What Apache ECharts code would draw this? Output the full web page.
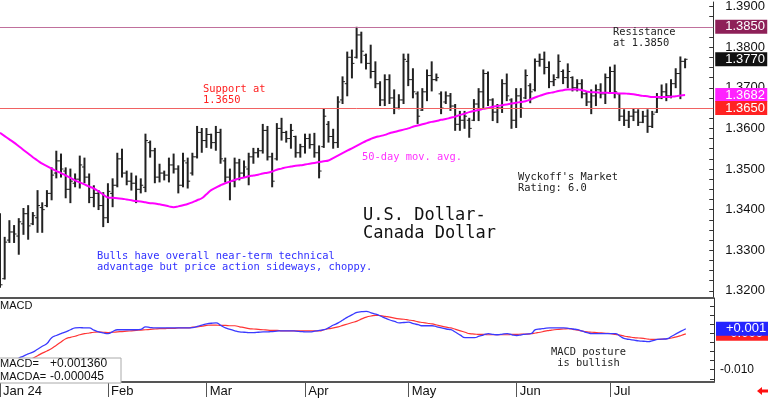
<!DOCTYPE html>
<html>
<head>
<meta charset="utf-8">
<script src="https://cdn.jsdelivr.net/npm/echarts@6/dist/echarts.min.js"></script>
<style>
  html, body { margin: 0; padding: 0; background: #fff; }
  #chart { width: 768px; height: 398px; }
</style>
</head>
<body>
<div id="chart"></div>
<script>
// month labels under the MACD panel
const monthLabels = ['Jan 24', 'Feb', 'Mar', 'Apr', 'May', 'Jun', 'Jul'];

// daily OHLC, Jan 1 .. Jul 23 2024 (weekdays)
const opens = [
  1.3385,1.3230,1.3325,1.3345,1.3335,1.3365,1.3390,1.3365,1.3380,1.3405,
  1.3410,1.3440,1.3490,1.3520,1.3495,1.3450,1.3465,1.3475,1.3505,1.3480,
  1.3430,1.3440,1.3410,1.3380,1.3440,1.3460,1.3525,1.3490,1.3470,1.3465,
  1.3450,1.3455,1.3565,1.3545,1.3480,1.3490,1.3485,1.3510,1.3500,1.3460,
  1.3515,1.3490,1.3530,1.3590,1.3570,1.3585,1.3565,1.3590,1.3520,1.3480,
  1.3470,1.3515,1.3490,1.3500,1.3530,1.3540,1.3545,1.3595,1.3530,1.3525,
  1.3600,1.3590,1.3575,1.3580,1.3540,1.3555,1.3575,1.3560,1.3540,1.3555,
  1.3610,1.3580,1.3565,1.3670,1.3710,1.3775,1.3775,1.3830,1.3780,1.3760,
  1.3740,1.3710,1.3670,1.3720,1.3675,1.3650,1.3670,1.3765,1.3720,1.3685,
  1.3645,1.3690,1.3730,1.3720,1.3685,1.3665,1.3680,1.3655,1.3610,1.3620,
  1.3620,1.3620,1.3660,1.3690,1.3735,1.3670,1.3640,1.3650,1.3710,1.3670,
  1.3620,1.3680,1.3675,1.3705,1.3695,1.3765,1.3770,1.3750,1.3715,1.3725,
  1.3740,1.3725,1.3725,1.3700,1.3710,1.3685,1.3665,1.3680,1.3695,1.3685,
  1.3725,1.3740,1.3685,1.3630,1.3620,1.3630,1.3640,1.3615,1.3630,1.3605,
  1.3640,1.3675,1.3690,1.3680,1.3710,1.3735,1.3765
];
const highs = [
  1.3391,1.3333,1.3374,1.3362,1.3379,1.3404,1.3411,1.3394,1.3448,1.3418,
  1.3448,1.3504,1.3545,1.3538,1.3504,1.3501,1.3489,1.3533,1.3528,1.3489,
  1.3460,1.3448,1.3443,1.3465,1.3477,1.3540,1.3550,1.3496,1.3491,1.3484,
  1.3477,1.3587,1.3570,1.3552,1.3513,1.3496,1.3528,1.3538,1.3509,1.3540,
  1.3528,1.3540,1.3606,1.3601,1.3601,1.3587,1.3606,1.3599,1.3528,1.3501,
  1.3528,1.3525,1.3521,1.3540,1.3552,1.3552,1.3611,1.3606,1.3540,1.3613,
  1.3626,1.3594,1.3611,1.3582,1.3562,1.3587,1.3587,1.3589,1.3558,1.3649,
  1.3618,1.3599,1.3679,1.3728,1.3789,1.3794,1.3850,1.3838,1.3784,1.3806,
  1.3765,1.3716,1.3733,1.3733,1.3696,1.3684,1.3784,1.3784,1.3748,1.3691,
  1.3699,1.3745,1.3765,1.3735,1.3691,1.3691,1.3687,1.3660,1.3643,1.3643,
  1.3626,1.3672,1.3699,1.3745,1.3740,1.3674,1.3660,1.3721,1.3735,1.3674,
  1.3699,1.3699,1.3745,1.3711,1.3772,1.3784,1.3789,1.3765,1.3733,1.3782,
  1.3745,1.3760,1.3728,1.3721,1.3721,1.3691,1.3696,1.3708,1.3711,1.3735,
  1.3752,1.3757,1.3687,1.3647,1.3643,1.3650,1.3647,1.3643,1.3647,1.3643,
  1.3687,1.3708,1.3711,1.3721,1.3748,1.3777,1.3772
];
const lows = [
  1.3208,1.3228,1.3318,1.3318,1.3289,1.3338,1.3326,1.3362,1.3343,1.3343,
  1.3406,1.3423,1.3477,1.3479,1.3428,1.3416,1.3455,1.3452,1.3465,1.3416,
  1.3406,1.3399,1.3357,1.3367,1.3406,1.3455,1.3479,1.3460,1.3447,1.3416,
  1.3440,1.3443,1.3528,1.3465,1.3467,1.3472,1.3467,1.3489,1.3440,1.3455,
  1.3452,1.3484,1.3526,1.3540,1.3552,1.3550,1.3545,1.3513,1.3467,1.3423,
  1.3455,1.3472,1.3479,1.3460,1.3513,1.3528,1.3538,1.3521,1.3455,1.3521,
  1.3570,1.3565,1.3550,1.3528,1.3528,1.3538,1.3550,1.3528,1.3477,1.3552,
  1.3565,1.3550,1.3552,1.3660,1.3679,1.3723,1.3772,1.3760,1.3745,1.3723,
  1.3699,1.3655,1.3655,1.3660,1.3635,1.3647,1.3660,1.3704,1.3674,1.3611,
  1.3643,1.3667,1.3691,1.3716,1.3635,1.3660,1.3643,1.3594,1.3594,1.3599,
  1.3577,1.3618,1.3618,1.3650,1.3655,1.3618,1.3613,1.3638,1.3667,1.3599,
  1.3601,1.3626,1.3672,1.3662,1.3691,1.3752,1.3733,1.3699,1.3704,1.3723,
  1.3709,1.3699,1.3691,1.3691,1.3674,1.3655,1.3635,1.3655,1.3674,1.3660,
  1.3687,1.3674,1.3618,1.3606,1.3601,1.3618,1.3606,1.3613,1.3589,1.3601,
  1.3638,1.3672,1.3667,1.3674,1.3699,1.3672,1.3748
];
const closes = [
  1.3215,1.3320,1.3345,1.3340,1.3370,1.3390,1.3360,1.3385,1.3410,1.3400,
  1.3440,1.3485,1.3520,1.3500,1.3450,1.3470,1.3475,1.3510,1.3480,1.3430,
  1.3440,1.3410,1.3380,1.3445,1.3460,1.3525,1.3490,1.3470,1.3465,1.3450,
  1.3460,1.3570,1.3545,1.3480,1.3490,1.3485,1.3510,1.3500,1.3460,1.3520,
  1.3470,1.3530,1.3590,1.3570,1.3585,1.3565,1.3590,1.3525,1.3480,1.3470,
  1.3515,1.3490,1.3505,1.3530,1.3540,1.3545,1.3595,1.3530,1.3470,1.3600,
  1.3590,1.3575,1.3595,1.3540,1.3555,1.3575,1.3560,1.3540,1.3495,1.3630,
  1.3580,1.3565,1.3665,1.3715,1.3775,1.3760,1.3830,1.3790,1.3760,1.3740,
  1.3710,1.3670,1.3720,1.3675,1.3650,1.3670,1.3770,1.3720,1.3690,1.3630,
  1.3690,1.3730,1.3720,1.3725,1.3650,1.3680,1.3655,1.3610,1.3620,1.3630,
  1.3600,1.3660,1.3690,1.3735,1.3670,1.3640,1.3650,1.3710,1.3680,1.3620,
  1.3680,1.3650,1.3730,1.3690,1.3765,1.3770,1.3750,1.3715,1.3720,1.3765,
  1.3725,1.3740,1.3700,1.3710,1.3685,1.3665,1.3680,1.3695,1.3685,1.3725,
  1.3740,1.3690,1.3630,1.3620,1.3630,1.3640,1.3615,1.3630,1.3605,1.3635,
  1.3675,1.3690,1.3680,1.3710,1.3735,1.3765,1.3770
];

// 50-day moving average as drawn
const ma50 = [
  1.3589,1.3581,1.3573,1.3565,1.3556,1.3547,1.3538,1.3529,1.3521,1.3513,
  1.3507,1.3501,1.3495,1.3490,1.3484,1.3478,1.3472,1.3467,1.3462,1.3457,
  1.3452,1.3445,1.3437,1.3430,1.3429,1.3428,1.3427,1.3425,1.3423,1.3421,
  1.3420,1.3418,1.3416,1.3415,1.3413,1.3411,1.3408,1.3406,1.3408,1.3411,
  1.3414,1.3418,1.3423,1.3428,1.3438,1.3448,1.3454,1.3460,1.3465,1.3469,
  1.3473,1.3477,1.3479,1.3482,1.3484,1.3486,1.3489,1.3491,1.3494,1.3498,
  1.3501,1.3504,1.3506,1.3508,1.3509,1.3511,1.3513,1.3515,1.3517,1.3519,
  1.3521,1.3527,1.3533,1.3539,1.3545,1.3551,1.3557,1.3563,1.3569,1.3574,
  1.3578,1.3581,1.3584,1.3588,1.3591,1.3594,1.3597,1.3600,1.3604,1.3607,
  1.3610,1.3613,1.3616,1.3618,1.3621,1.3623,1.3626,1.3629,1.3633,1.3636,
  1.3640,1.3643,1.3645,1.3648,1.3650,1.3653,1.3655,1.3657,1.3659,1.3661,
  1.3663,1.3665,1.3667,1.3671,1.3676,1.3680,1.3684,1.3687,1.3689,1.3692,
  1.3694,1.3696,1.3696,1.3696,1.3694,1.3691,1.3689,1.3689,1.3688,1.3688,
  1.3687,1.3687,1.3686,1.3686,1.3685,1.3684,1.3682,1.3680,1.3679,1.3677,
  1.3677,1.3677,1.3677,1.3678,1.3679,1.3681,1.3682
];

// MACD (blue) and its signal line (red)
const macd = [
  -0.0105,-0.0096,-0.0087,-0.0078,-0.0068,-0.0062,-0.0056,-0.0051,-0.0043,-0.0035,
  -0.0027,-0.0011,-0.0005,0.0000,0.0005,0.0011,0.0016,0.0017,0.0016,0.0016,
  0.0010,0.0005,0.0002,0.0000,0.0006,0.0011,0.0011,0.0011,0.0011,0.0011,
  0.0012,0.0019,0.0017,0.0016,0.0016,0.0016,0.0016,0.0016,0.0016,0.0016,
  0.0016,0.0017,0.0020,0.0024,0.0027,0.0029,0.0030,0.0023,0.0016,0.0012,
  0.0008,0.0005,0.0004,0.0003,0.0003,0.0004,0.0005,0.0005,0.0006,0.0007,
  0.0008,0.0008,0.0008,0.0007,0.0006,0.0005,0.0005,0.0007,0.0009,0.0011,
  0.0017,0.0024,0.0030,0.0038,0.0046,0.0053,0.0059,0.0061,0.0062,0.0058,
  0.0054,0.0049,0.0043,0.0038,0.0034,0.0030,0.0031,0.0032,0.0028,0.0025,
  0.0022,0.0022,0.0022,0.0019,0.0016,0.0013,0.0011,0.0004,-0.0004,-0.0011,
  -0.0011,-0.0011,-0.0007,-0.0003,0.0000,-0.0002,-0.0003,-0.0001,0.0000,-0.0003,
  -0.0005,-0.0003,-0.0001,0.0000,0.0011,0.0013,0.0015,0.0016,0.0016,0.0016,
  0.0016,0.0015,0.0013,0.0011,0.0007,0.0003,0.0000,0.0000,0.0000,0.0000,
  0.0000,0.0000,-0.0007,-0.0014,-0.0016,-0.0018,-0.0020,-0.0021,-0.0022,-0.0019,
  -0.0016,-0.0015,-0.0014,-0.0007,0.0000,0.0007,0.00136
];
const macdSignal = [
  -0.0127,-0.0118,-0.0110,-0.0101,-0.0092,-0.0083,-0.0075,-0.0068,-0.0061,-0.0054,
  -0.0048,-0.0041,-0.0032,-0.0023,-0.0014,-0.0010,-0.0007,-0.0003,0.0000,0.0002,
  0.0004,0.0005,0.0004,0.0003,0.0004,0.0005,0.0006,0.0007,0.0008,0.0009,
  0.0010,0.0011,0.0012,0.0013,0.0014,0.0014,0.0015,0.0015,0.0016,0.0016,
  0.0016,0.0018,0.0019,0.0021,0.0023,0.0024,0.0024,0.0023,0.0023,0.0022,
  0.0022,0.0019,0.0017,0.0014,0.0013,0.0012,0.0011,0.0010,0.0009,0.0009,
  0.0008,0.0008,0.0008,0.0008,0.0008,0.0008,0.0008,0.0008,0.0008,0.0011,
  0.0014,0.0016,0.0019,0.0023,0.0027,0.0031,0.0035,0.0041,0.0046,0.0049,
  0.0051,0.0050,0.0048,0.0046,0.0043,0.0041,0.0040,0.0038,0.0036,0.0033,
  0.0031,0.0029,0.0027,0.0024,0.0021,0.0018,0.0016,0.0012,0.0008,0.0004,
  0.0000,-0.0001,-0.0002,-0.0002,-0.0003,-0.0003,-0.0003,-0.0003,-0.0003,-0.0002,
  -0.0002,-0.0001,-0.0001,0.0000,0.0002,0.0004,0.0007,0.0009,0.0011,0.0012,
  0.0013,0.0014,0.0012,0.0010,0.0007,0.0005,0.0004,0.0003,0.0002,0.0001,
  0.0000,-0.0002,-0.0004,-0.0007,-0.0009,-0.0011,-0.0012,-0.0013,-0.0015,-0.0016,
  -0.0016,-0.0015,-0.0014,-0.0012,-0.0009,-0.0005,-0.000045
];

const priceLabels = [1.32, 1.33, 1.34, 1.35, 1.36, 1.37, 1.38, 1.39];
const macdLabels = [-0.01];
const resistance = 1.3850;
const support = 1.3650;

// weekday categories Jan 1 .. Jul 31 2024
const days = [];
for (let d = new Date(Date.UTC(2024, 0, 1)); d <= new Date(Date.UTC(2024, 6, 31)); d.setUTCDate(d.getUTCDate() + 1)) {
  const wd = d.getUTCDay();
  if (wd !== 0 && wd !== 6) days.push(d.toISOString().slice(0, 10));
}
const monthStart = {};
days.forEach((s, i) => {
  if (i === 0 || s.slice(5, 7) !== days[i - 1].slice(5, 7)) monthStart[i] = +s.slice(5, 7) - 1;
});

const ohlc = opens.map((o, i) => [i, o, highs[i], lows[i], closes[i]]);
const last = closes.length - 1;

const priceTicks = [];
for (let v = 1.3200; v <= 1.3901; v += 0.0025) priceTicks.push(+v.toFixed(4));
const macdTicks = [];
for (let v = -0.0125; v <= 0.0091; v += 0.0025) macdTicks.push(+v.toFixed(4));

const clear = 'rgba(0,0,0,0)';
const tagLabel = (bg, text) => ({
  show: true, position: 'end', distance: 2,
  formatter: text, color: '#fff', backgroundColor: bg,
  fontFamily: 'Liberation Sans', fontSize: 13, lineHeight: 14,
  width: 40, padding: [0, 2, 0, 10], align: 'left'
});
const tag = (value, bg, text, lineColor) => ({
  yAxis: value,
  lineStyle: { color: lineColor || clear, width: 1, type: 'solid' },
  label: tagLabel(bg, text)
});
const sgn = (v, d) => (v >= 0 ? '+' : '-') + Math.abs(v).toFixed(d);

const mono = '10.4px "DejaVu Sans Mono"';
const texts = [];
function txt(x, y, s, color, font) {
  texts.push({ type: 'text', x: x, y: y, z: 50,
    style: { text: s, fill: color, font: font || mono, textAlign: 'left', textVerticalAlign: 'middle' } });
}
txt(203, 89, 'Support at', '#ff2020');
txt(203, 100, '1.3650', '#ff2020');
txt(613, 32, 'Resistance', '#222');
txt(613, 43, 'at 1.3850', '#222');
txt(362, 157, '50-day mov. avg.', '#ff30ff');
txt(518, 177, "Wyckoff's Market", '#222');
txt(518, 188, 'Rating: 6.0', '#222');
txt(363, 216, 'U.S. Dollar-', '#111', '17px "DejaVu Sans Mono"');
txt(363, 234, 'Canada Dollar', '#111', '17px "DejaVu Sans Mono"');
txt(97, 256, 'Bulls have overall near-term technical', '#3030ff');
txt(97, 267, 'advantage but price action sideways, choppy.', '#3030ff');
txt(551, 352, 'MACD posture', '#222');
txt(551, 363, ' is bullish', '#222');
txt(0, 306, 'MACD', '#111', '11px "Liberation Sans"');

const boxFont = '11px "Liberation Sans"';
const boxValFont = '12px "Liberation Sans"';

const myChart = echarts.init(document.getElementById('chart'));

const option = {
  animation: false,
  backgroundColor: '#fff',
  grid: [
    { left: 0, right: 54, top: 0, height: 298 },
    { left: 0, right: 54, top: 298, height: 85 }
  ],
  xAxis: [
    {
      type: 'category', gridIndex: 0, data: days, boundaryGap: false,
      axisLine: { show: true, onZero: false, lineStyle: { color: '#555', width: 2 } },
      axisTick: { show: false }, axisLabel: { show: false }
    },
    {
      type: 'category', gridIndex: 1, data: days, boundaryGap: false,
      axisLine: { show: true, onZero: false, lineStyle: { color: '#555', width: 2 } },
      axisTick: { show: true, length: 15, interval: (i) => i in monthStart, lineStyle: { color: '#555' } },
      axisLabel: {
        interval: (i) => i in monthStart,
        formatter: (v, i) => monthLabels[monthStart[i]],
        align: 'left', padding: [0, 0, 0, 3], margin: 3,
        color: '#111', fontFamily: 'Liberation Sans', fontSize: 13
      }
    }
  ],
  yAxis: [
    {
      type: 'value', gridIndex: 0, position: 'right', min: 1.31825, max: 1.39111,
      axisLine: { show: true, lineStyle: { color: '#333' } },
      axisTick: { show: true, inside: true, length: 4, customValues: priceTicks, lineStyle: { color: '#333' } },
      axisLabel: { customValues: priceLabels, formatter: (v) => v.toFixed(4), margin: 12,
        color: '#111', fontFamily: 'Liberation Sans', fontSize: 13 },
      splitLine: { show: false }
    },
    {
      type: 'value', gridIndex: 1, position: 'right', min: -0.0134, max: 0.0099,
      axisLine: { show: true, lineStyle: { color: '#333' } },
      axisTick: { show: true, inside: true, length: 4, customValues: macdTicks, lineStyle: { color: '#333' } },
      axisLabel: { customValues: macdLabels, formatter: (v) => v.toFixed(3), margin: 6,
        color: '#111', fontFamily: 'Liberation Sans', fontSize: 12 },
      splitLine: { show: false }
    }
  ],
  series: [
    {
      type: 'custom', name: 'USD/CAD', xAxisIndex: 0, yAxisIndex: 0,
      data: ohlc, encode: { x: 0, y: [1, 2, 3, 4] },
      renderItem: function (params, api) {
        const i = api.value(0);
        const pO = api.coord([i, api.value(1)]);
        const pH = api.coord([i, api.value(2)]);
        const pL = api.coord([i, api.value(3)]);
        const pC = api.coord([i, api.value(4)]);
        const st = { stroke: '#222', lineWidth: 1 };
        return {
          type: 'group',
          children: [
            { type: 'line', shape: { x1: pH[0], y1: pH[1], x2: pL[0], y2: pL[1] }, style: { stroke: '#222', lineWidth: 2 } },
            { type: 'line', shape: { x1: pO[0] - 2.5, y1: pO[1], x2: pO[0], y2: pO[1] }, style: st },
            { type: 'line', shape: { x1: pC[0], y1: pC[1], x2: pC[0] + 2.5, y2: pC[1] }, style: st }
          ]
        };
      }
    },
    {
      type: 'line', name: '50-day', xAxisIndex: 0, yAxisIndex: 0, data: ma50,
      showSymbol: false, smooth: true, z: 3,
      lineStyle: { color: '#ff00ff', width: 2 },
      markLine: {
        silent: true, symbol: ['none', 'none'], animation: false, precision: 6,
        data: [
          tag(ma50[last], '#ff22ff', ma50[last].toFixed(4)),
          tag(support, '#ff2222', support.toFixed(4), '#f06262'),
          tag(resistance, '#8e2058', resistance.toFixed(4), '#c0709c'),
          tag(closes[last], '#111', closes[last].toFixed(4))
        ]
      }
    },
    {
      type: 'line', name: 'MACDA', xAxisIndex: 1, yAxisIndex: 1, data: macdSignal,
      showSymbol: false, smooth: true, lineStyle: { color: '#ff3434', width: 1.2 },
      markLine: {
        silent: true, symbol: ['none', 'none'], animation: false, precision: 8,
        data: [tag(macdSignal[last], '#ff2222', sgn(macdSignal[last], 3))]
      }
    },
    {
      type: 'line', name: 'MACD', xAxisIndex: 1, yAxisIndex: 1, data: macd,
      showSymbol: false, smooth: true, lineStyle: { color: '#3a3aff', width: 1.3 },
      markLine: {
        silent: true, symbol: ['none', 'none'], animation: false, precision: 8,
        data: [tag(macd[last], '#2424ff', sgn(macd[last], 3))]
      }
    }
  ],
  graphic: texts.concat([
    { type: 'rect', z: 60, shape: { x: -1, y: 358, width: 122, height: 25 },
      style: { fill: '#fff', stroke: '#aaa', lineWidth: 1 } },
    { type: 'text', z: 61, x: 0, y: 364, style: { text: 'MACD=', fill: '#111', font: boxFont, textVerticalAlign: 'middle' } },
    { type: 'text', z: 61, x: 50, y: 364, style: { text: sgn(macd[last], 6), fill: '#111', font: boxValFont, textVerticalAlign: 'middle' } },
    { type: 'text', z: 61, x: 0, y: 377, style: { text: 'MACDA=', fill: '#111', font: boxFont, textVerticalAlign: 'middle' } },
    { type: 'text', z: 61, x: 50, y: 377, style: { text: sgn(macdSignal[last], 6), fill: '#111', font: boxValFont, textVerticalAlign: 'middle' } },
    { type: 'polygon', z: 61, shape: { points: [[757, 391], [762, 387], [762, 389.5], [768, 389.5], [768, 392.5], [762, 392.5], [762, 395]] },
      style: { fill: '#ff1010' } }
  ])
};

option && myChart.setOption(option);
</script>
</body>
</html>
